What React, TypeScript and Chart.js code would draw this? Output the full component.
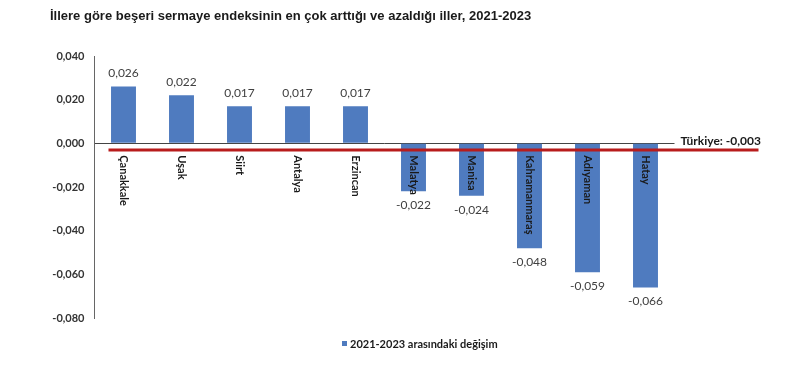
import React, { useEffect, useRef } from "react";
import { Chart, registerables } from "chart.js";

Chart.register(...registerables);

const TITLE = "İllere göre beşeri sermaye endeksinin en çok arttığı ve azaldığı iller, 2021-2023";
const CATEGORIES = ["Çanakkale", "Uşak", "Siirt", "Antalya", "Erzincan", "Malatya", "Manisa", "Kahramanmaraş", "Adıyaman", "Hatay"];
const VALUES = [0.026, 0.022, 0.017, 0.017, 0.017, -0.022, -0.024, -0.048, -0.059, -0.066];
const SERIES_LABEL = "2021-2023 arasındaki değişim";
const TURKIYE_LABEL = "Türkiye";
const TURKIYE_VALUE = -0.003;
const Y_MIN = -0.08;
const Y_MAX = 0.04;
const Y_STEP = 0.02;

const fmt = (v: number) => v.toFixed(3).replace(".", ",");

const BLUE = "#4f7bbf";
const LABEL_FONT = "Lato, 'Open Sans', sans-serif";

const overlay = {
  id: "overlay",
  afterDatasetsDraw(chart: any) {
    const ctx = chart.ctx as CanvasRenderingContext2D;
    const area = chart.chartArea;
    const y = chart.scales.y;
    const meta = chart.getDatasetMeta(0);
    ctx.save();

    // title
    ctx.fillStyle = "#1a1a1a";
    ctx.font = "bold 13px 'Liberation Sans', Arial, sans-serif";
    ctx.textAlign = "left";
    ctx.textBaseline = "middle";
    ctx.fillText(TITLE, 50, 16);

    // value labels
    ctx.font = `12px ${LABEL_FONT}`;
    ctx.fillStyle = "#404040";
    ctx.textAlign = "center";
    meta.data.forEach((bar: any, i: number) => {
      const v = VALUES[i];
      const py = v >= 0 ? bar.y - 13 : bar.y + 14;
      ctx.fillText(fmt(v), bar.x, py);
    });

    // reference line
    const ry = y.getPixelForValue(TURKIYE_VALUE);
    ctx.strokeStyle = "#b81c1c";
    ctx.lineWidth = 3;
    ctx.beginPath();
    ctx.moveTo(area.left + 14, ry);
    ctx.lineTo(area.right + 84, ry);
    ctx.stroke();

    // Türkiye label
    ctx.font = `bold 12px ${LABEL_FONT}`;
    ctx.fillStyle = "#1a1a1a";
    ctx.textAlign = "left";
    ctx.textBaseline = "middle";
    ctx.fillText(`${TURKIYE_LABEL}: ${fmt(TURKIYE_VALUE)}`, area.right + 6, y.getPixelForValue(0) - 2);

    // category labels (rotated)
    const y0 = y.getPixelForValue(0);
    ctx.font = `bold 11px ${LABEL_FONT}`;
    ctx.fillStyle = "#1a1a1a";
    meta.data.forEach((bar: any, i: number) => {
      ctx.save();
      ctx.translate(bar.x, y0 + 12);
      ctx.rotate(Math.PI / 2);
      ctx.textAlign = "left";
      ctx.textBaseline = "middle";
      ctx.fillText(CATEGORIES[i], 0, 0);
      ctx.restore();
    });

    // legend
    ctx.fillStyle = BLUE;
    ctx.fillRect(342, 341, 5, 5);
    ctx.font = `bold 11px ${LABEL_FONT}`;
    ctx.fillStyle = "#1a1a1a";
    ctx.textAlign = "left";
    ctx.textBaseline = "middle";
    ctx.fillText(SERIES_LABEL, 350, 344);

    ctx.restore();
  },
};

export default function App() {
  const ref = useRef<HTMLCanvasElement | null>(null);
  useEffect(() => {
    document.body.style.margin = "0";
    const chart = new Chart(ref.current as HTMLCanvasElement, {
      type: "bar",
      data: {
        labels: CATEGORIES,
        datasets: [
          {
            label: SERIES_LABEL,
            data: VALUES,
            backgroundColor: BLUE,
            categoryPercentage: 1,
            barPercentage: 0.43,
          },
        ],
      },
      options: {
        animation: false,
        responsive: false,
        layout: { padding: { top: 56, bottom: 42, left: 0, right: 125.5 } },
        plugins: {
          legend: { display: false },
          title: { display: false },
          tooltip: { enabled: false },
        },
        scales: {
          x: {
            grid: { display: false },
            ticks: { display: false },
            border: { display: false },
          },
          y: {
            min: Y_MIN,
            max: Y_MAX,
            afterFit(scale: any) {
              scale.width = 94.5;
            },
            ticks: {
              stepSize: Y_STEP,
              padding: 10,
              color: "#333",
              font: { family: LABEL_FONT, size: 11, weight: "bold" },
              callback: (v: any) => fmt(Number(v)),
            },
            grid: {
              drawTicks: false,
              color: (c: any) => (c.tick && Math.abs(c.tick.value) < 1e-9 ? "#444" : "rgba(0,0,0,0)"),
              lineWidth: 1,
            },
            border: { display: true, color: "#666", width: 1 },
          },
        },
      },
      plugins: [overlay],
    });
    return () => chart.destroy();
  }, []);
  return <canvas ref={ref} width={800} height={368} style={{ display: "block" }} />;
}
